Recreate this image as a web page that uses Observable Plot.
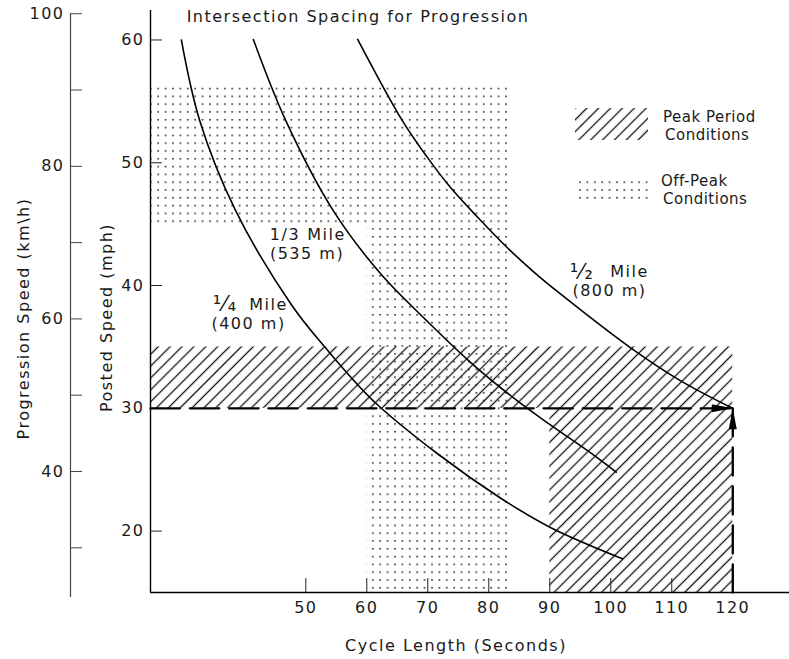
<!DOCTYPE html>
<html><head><meta charset="utf-8">
<script src="https://cdn.jsdelivr.net/npm/d3@7"></script>
<script src="https://cdn.jsdelivr.net/npm/@observablehq/plot@0.6"></script>
<style>
body{margin:0;background:#fff;}
#chart svg{display:block;}
</style>
</head><body><div id="chart"></div>
<script>
// ---------- data ----------
const cycleTicks = [50, 60, 70, 80, 90, 100, 110, 120];      // seconds
const mphTicks = [20, 30, 40, 50, 60];                      // posted speed
const kmhTicks = [30, 40, 50, 60, 70, 80, 90, 100];         // progression speed
const kmhLabeled = [40, 60, 80, 100];
const kmhAxisExtent = [23.5, 100];

// [cycle length (s), speed (mph)]
const quarterMile = [[29.6,60.0],[32.6,53.45],[38.5,46.1],[47.7,38.4],[53.2,34.95],[61.1,30.6],[71.6,26.3],[81.9,22.7],[90.1,20.3],[101.9,17.75]];
const thirdMile = [[41.4,60.04],[46.7,53.45],[54.5,46.1],[62.2,41.0],[69.9,37.1],[77.0,33.75],[84.7,30.6],[90.1,28.65],[96.2,26.55],[100.9,24.8]];
const halfMile = [[58.5,60.05],[65.8,53.45],[69.9,50.46],[73.7,48.0],[78.1,45.6],[83.0,43.1],[87.4,41.1],[91.8,39.3],[103.2,34.95],[111.4,32.26],[120,30]];

// condition zones (cycle length x speed)
const peakZones = [{x1: 24.54, x2: 120, y1: 30, y2: 35}, {x1: 90, x2: 120, y1: 15, y2: 30}];
const offPeakZones = [{x1: 24.54, x2: 83.2, y1: 45, y2: 56.5}, {x1: 60, x2: 83.2, y1: 15, y2: 45}];

// 30 mph / 120 s guide
const guideSpeed = [[24.54, 30], [120, 30]];
const guideCycle = [[120, 15], [120, 30]];
const guideTip = [{x: 120, y: 30, angle: 90}, {x: 120, y: 30, angle: 0}];

// curve annotations
const curveLabels = [
  {C: 43.89, v: 38.45, text: "Mile"}, {C: 40.61, v: 36.86, text: "(400 m)"},
  {C: 46.59, v: 44.16, text: "1/3"}, {C: 53.39, v: 44.16, text: "Mile"}, {C: 50.2, v: 42.57, text: "(535 m)"},
  {C: 103.07, v: 41.1, text: "Mile"}, {C: 99.79, v: 39.55, text: "(800 m)"}
];
const fractions = [{C: 36.8, v: 38.5, text: "\u00b9\u2044\u2084"}, {C: 95.3, v: 41.1, text: "\u00b9\u2044\u2082"}];

const titleText = "Intersection Spacing for Progression";
const xTitle = "Cycle Length (Seconds)";
const yTitle = "Posted Speed (mph)";
const y2Title = "Progression Speed (km\\h)";
const legendItems = [
  {lines: ["Peak Period", "Conditions"], fill: "url(#hatch)"},
  {lines: ["Off-Peak", "Conditions"], fill: "url(#dots)"}
];

// ---------- chart ----------
const KMH = 1.609344;
const xDomain = [24.54, 129.3];
const yDomain = [15, 62.4];
const ink = "#1a1a1a";

const arrowHead = {
  draw(context) {
    context.moveTo(0, 0);
    context.lineTo(-4, 21);
    context.lineTo(4, 21);
    context.closePath();
  }
};

const xy = {x: d => d[0], y: d => d[1]};
const curveStyle = {...xy, curve: "catmull-rom", stroke: "#000", strokeWidth: 1.6};

const chart = Plot.plot({
  width: 789, height: 659,
  marginLeft: 150, marginRight: 0, marginTop: 10, marginBottom: 67,
  x: {domain: xDomain, label: null},
  y: {domain: yDomain, label: null},
  style: {fontFamily: "'DejaVu Sans', sans-serif", fontSize: "16px", letterSpacing: "1.5px", background: "#fff", color: ink},
  marks: [
    Plot.rect(offPeakZones, {x1: "x1", x2: "x2", y1: "y1", y2: "y2", fill: "url(#dots)"}),
    Plot.rect(peakZones, {x1: "x1", x2: "x2", y1: "y1", y2: "y2", fill: "url(#hatch)"}),

    // frame lines
    Plot.ruleX([xDomain[0]], {y1: yDomain[0], y2: yDomain[1], stroke: "#000", strokeWidth: 1.4}),
    Plot.ruleY([yDomain[0]], {x1: xDomain[0], x2: xDomain[1], stroke: "#000", strokeWidth: 1.4}),
    // outer km/h axis line
    Plot.ruleX([xDomain[0]], {y1: kmhAxisExtent[0] / KMH, y2: kmhAxisExtent[1] / KMH, dx: -80, stroke: "#444", strokeWidth: 1.2}),

    // x axis
    Plot.axisX(cycleTicks, {anchor: "bottom", tickSize: 14, dy: -14, tickFormat: () => "", stroke: "#222"}),
    Plot.axisX(cycleTicks, {anchor: "bottom", tickSize: 0, tickPadding: 9, fill: ink}),
    // mph axis
    Plot.axisY(mphTicks, {anchor: "left", tickSize: 12, dx: 12, tickFormat: () => "", stroke: "#222"}),
    Plot.axisY(mphTicks, {anchor: "left", tickSize: 0, tickPadding: 6, fill: ink}),
    // km/h axis
    Plot.axisY(kmhTicks.map(k => k / KMH), {anchor: "left", tickSize: 12, dx: -68, tickFormat: () => "", stroke: "#444"}),
    Plot.axisY(kmhLabeled.map(k => k / KMH), {anchor: "left", tickSize: 0, tickPadding: 6, dx: -80, tickFormat: d => Math.round(d * KMH), fill: ink}),

    // spacing curves
    Plot.line(quarterMile, curveStyle),
    Plot.line(thirdMile, curveStyle),
    Plot.line(halfMile, curveStyle),

    // dashed guide with arrows
    Plot.line(guideSpeed, {...xy, stroke: "#000", strokeWidth: 2.3, strokeDasharray: "29.5,9.8"}),
    Plot.line(guideCycle, {...xy, stroke: "#000", strokeWidth: 2.3, strokeDasharray: "28,11"}),
    Plot.dot(guideTip, {x: "x", y: "y", rotate: "angle", symbol: arrowHead, fill: "#000"}),

    // curve labels
    Plot.text(curveLabels, {x: "C", y: "v", text: "text", textAnchor: "middle", lineAnchor: "middle", fill: ink}),
    Plot.text(fractions, {x: "C", y: "v", text: "text", fontSize: 21, textAnchor: "middle", lineAnchor: "middle", fill: ink}),

    // titles
    Plot.text([titleText], {frameAnchor: "top", dx: -112, dy: 6, textAnchor: "middle", lineAnchor: "middle", fill: ink}),
    Plot.text([xTitle], {frameAnchor: "bottom", dx: -14, dy: 53, textAnchor: "middle", lineAnchor: "middle", fill: ink}),
    Plot.text([yTitle], {frameAnchor: "left", dx: -44, dy: 16, rotate: -90, textAnchor: "middle", lineAnchor: "middle", fill: ink}),
    Plot.text([y2Title], {frameAnchor: "left", dx: -127, dy: 17, rotate: -90, textAnchor: "middle", lineAnchor: "middle", fill: ink})
  ]
});

const svg = d3.select(chart);
svg.insert("defs", ":first-child").html(`
  <pattern id="hatch" patternUnits="userSpaceOnUse" width="8.4" height="8.4" patternTransform="rotate(45)">
    <line x1="4.2" y1="-1" x2="4.2" y2="9.4" stroke="#111" stroke-width="1.3"/>
  </pattern>
  <pattern id="dots" patternUnits="userSpaceOnUse" width="7.4" height="7.8">
    <rect x="2" y="2" width="1.6" height="1.5" fill="#222"/>
  </pattern>`);

// legend (layout in pixels)
const legend = svg.append("g").attr("class", "legend").attr("fill", ink)
  .attr("text-anchor", "start")
  .style("font-family", "'DejaVu Sans', sans-serif").style("font-size", "15px").style("letter-spacing", "0.5px");
const legendBoxes = [{x: 575, y: 108, w: 73, h: 32}, {x: 575, y: 177, w: 73, h: 23}];
const legendText = [{x: 663, y: 122}, {x: 661, y: 186}];
legendItems.forEach((item, i) => {
  legend.append("rect").attr("x", legendBoxes[i].x).attr("y", legendBoxes[i].y)
    .attr("width", legendBoxes[i].w).attr("height", legendBoxes[i].h).attr("fill", item.fill);
  item.lines.forEach((line, j) => {
    legend.append("text").attr("x", legendText[i].x + (j ? 2 : 0)).attr("y", legendText[i].y + j * 18).text(line);
  });
});

document.getElementById("chart").appendChild(chart);
</script>
</body></html>
